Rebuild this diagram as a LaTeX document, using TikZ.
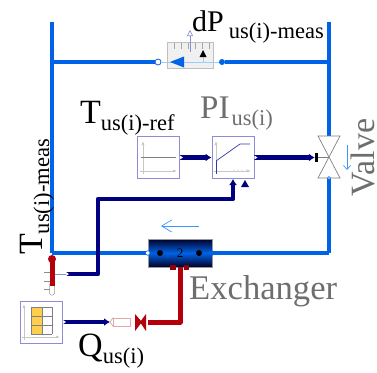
\documentclass[tikz,border=0pt]{standalone}
\usepackage{fontspec}
\setmainfont{Liberation Serif}
\usetikzlibrary{arrows.meta}
\usetikzlibrary{shapes.geometric}
\definecolor{pipeblue}{RGB}{0,98,230}
\definecolor{flowblue}{RGB}{60,150,250}
\definecolor{signalnavy}{RGB}{0,0,128}
\definecolor{boxviolet}{RGB}{140,140,215}
\definecolor{heatred}{RGB}{180,0,10}
\definecolor{labelgray}{RGB}{110,110,110}
\newcommand{\sublabel}[3][34]{{\fontsize{#1}{#1}\selectfont #2}{\fontsize{22.5}{22.5}\selectfont\raisebox{-7pt}{#3}}}
\begin{document}
\begin{tikzpicture}[x=1pt, y=-1pt]
	\tikzstyle{pipeStyle}=[draw=pipeblue, line width=4.5pt]
	\tikzstyle{signalStyle}=[draw=signalnavy, line width=4.2pt, -{Latex[length=6pt,width=8pt]}, line join=round]
	\tikzstyle{blockStyle}=[shape=rectangle, draw=boxviolet, line width=0.9pt, fill=white, minimum size=42pt, inner sep=0pt]
	\tikzstyle{axisStyle}=[draw=black!22, line width=0.7pt, -{Latex[length=4pt,width=3pt]}]
	\tikzstyle{portStyle}=[shape=circle, minimum size=6pt, inner sep=0pt]
	\tikzstyle{textStyle}=[anchor=base west, inner sep=0pt]
	\useasboundingbox (0,0) rectangle (377,372);
	% circuit
	\coordinate (topleft) at (52,22);
	\coordinate (topright) at (329,22);
	\coordinate (corner1) at (52,253);
	\coordinate (corner2) at (329,253);
	\coordinate (lefttee) at (52,62);
	\coordinate (righttee) at (329,62);
	\node[shape=rectangle, draw=black!25, fill=black!6, line width=0.8pt, minimum width=46pt, minimum height=26pt, inner sep=0pt] (sensor) at (190,55) {};
	\node[portStyle, draw=pipeblue, fill=white, line width=0.8pt] (sensorin) at (158,62) {};
	\node[portStyle, fill=pipeblue] (sensorout) at (222,62) {};
	\draw[draw=flowblue!50, line width=0.8pt] (sensorin) -- (sensorout);
	\draw[pipeStyle] (topleft) -- (corner1);
	\draw[pipeStyle] (lefttee) -- (sensorin);
	\draw[pipeStyle] (sensorout) -- (righttee);
	% sensor
	\foreach \tickx in {174,181,188,195,202,209}
		\draw[draw=black!35, line width=0.5pt] (\tickx,43) -- (\tickx,49);
	\fill[pipeblue] (170,62) -- (184,56.5) -- (184,67.5) -- cycle;
	\coordinate (sensorup) at (190,52);
	\coordinate (sensortip) at (190,30);
	\draw[draw=boxviolet, line width=0.6pt, -{Triangle[open,length=6pt,width=6pt]}] (sensorup) -- (sensortip);
	\draw[draw=flowblue!50, line width=0.6pt] (203,56) -- (203,62) -- (208,62);
	\fill[black] (203,50) -- (206.5,57) -- (199.5,57) -- cycle;
	% exchanger
	\node[shape=rectangle, draw=black!40, line width=0.5pt, minimum width=64pt, minimum height=28pt, inner sep=0pt, top color=black!85!blue, bottom color=black!85!blue, middle color=pipeblue] (exchanger) at (180,253) {\fontsize{13}{13}\selectfont 2};
	\node[portStyle, fill=black] (dot1) at (160,253) {};
	\node[portStyle, fill=black] (dot2) at (199,253) {};
	\draw[pipeStyle] (corner1) -- (exchanger.west);
	\draw[pipeStyle] (exchanger.east) -- (corner2);
	\node[portStyle, draw=pipeblue, fill=white, line width=0.6pt, minimum size=4.5pt] (exin) at (exchanger.west) {};
	\node[portStyle, fill=pipeblue, minimum size=5pt] (exout) at (exchanger.east) {};
	\coordinate (flowstart) at (199,226);
	\coordinate (flowend) at (161,226);
	\draw[draw=flowblue, line width=0.7pt, -{Straight Barb[length=10pt,width=12pt]}] (flowstart) -- (flowend);
	\fill[heatred!80!black] (170,265) rectangle (176,270);
	\fill[heatred!80!black] (184,265) rectangle (189,270);
	% valve
	\coordinate (valvetop) at (329,136);
	\coordinate (valvebottom) at (329,178);
	\coordinate (valvemid) at (329,157.5);
	\draw[pipeStyle] (topright) -- (valvetop);
	\draw[pipeStyle] (valvebottom) -- (corner2);
	\draw[draw=black!50, fill=white, line width=0.7pt] (318,136) -- (340,136) -- (318,178) -- (340,178) -- cycle;
	\node[portStyle, draw=pipeblue, fill=white, line width=0.5pt, minimum size=3pt] (valveport) at (valvebottom) {};
	\node[shape=rectangle, fill=black, minimum width=3pt, minimum height=9pt, inner sep=0pt] (valvebar) at (316.5,157.5) {};
	\draw[draw=black!50, line width=0.6pt] (valvebar) -- (valvemid);
	\coordinate (valveflow1) at (347,145);
	\coordinate (valveflow2) at (347,170);
	\draw[draw=flowblue, line width=0.7pt, -{Straight Barb[length=4pt,width=7pt]}] (valveflow1) -- (valveflow2);
	% blocks
	\node[blockStyle] (ref) at (158.5,157.5) {};
	\node[blockStyle] (pi) at (233,157.5) {};
	\node[blockStyle] (table) at (41.5,322) {};
	\draw[axisStyle] (143,174) -- (143,141);
	\draw[axisStyle] (140,171) -- (177,171);
	\draw[draw=black!50, line width=0.6pt] (141,157) -- (176,157);
	\draw[axisStyle] (216,174) -- (216,141);
	\draw[axisStyle] (214,171) -- (251,171);
	\draw[draw=boxviolet!40!signalnavy, line width=0.7pt] (216,161) -- (240,144) -- (250,144);
	\draw[draw=boxviolet!40!signalnavy, line width=0.7pt] (216,161) -- (216,174);
	\foreach \dotx in {234,238,242,246}
		\fill[black!40] (\dotx,170) circle (0.5pt);
	\draw[axisStyle] (24,340) -- (24,304);
	\draw[axisStyle] (22,337) -- (60,337);
	\fill[orange!55!yellow!70] (31,307) rectangle (42,334);
	\foreach \rowy in {307,316,325,334}
		\draw[draw=black!50, line width=0.7pt] (31,\rowy) -- (52,\rowy);
	\foreach \colx in {31,42,52}
		\draw[draw=black!50, line width=0.7pt] (\colx,307) -- (\colx,334);
	% signals
	\coordinate (piinput) at (233,179);
	\coordinate (sensorbend1) at (98,274);
	\coordinate (sensorbend2) at (98,199);
	\coordinate (sensorbend3) at (233,199);
	\coordinate (heateron) at (110,322);
	\draw[signalStyle] (ref.east) -- (pi.west);
	\draw[signalStyle] (pi.east) -- (valvebar.west);
	\fill[signalnavy] (245,180) -- (249,187) -- (241,187) -- cycle;
	% thermometer
	\node[shape=rectangle, draw=black!40, fill=white, rounded corners=1.5pt, line width=0.5pt, minimum width=5pt, minimum height=12pt, inner sep=0pt] (stem) at (52,289) {};
	\fill[heatred] (49.5,259) rectangle (54.5,286);
	\node[portStyle, fill=heatred, minimum size=8pt] (bulb) at (52,259) {};
	\foreach \marky in {272,281,289}
		\draw[draw=black!45, line width=0.6pt] (44,\marky) -- (49.5,\marky);
	\coordinate (thermoside) at (55,274);
	\coordinate (thermoout) at (66,274);
	\draw[draw=boxviolet, line width=0.7pt] (thermoside) -- (thermoout);
	\draw[signalStyle] (thermoout) -- (sensorbend1) -- (sensorbend2) -- (sensorbend3) -- (piinput);
	\draw[signalStyle] (table.east) -- (heateron);
	\foreach \outport in {ref.east, pi.east, table.east, thermoout}
		\fill[white] (\outport) ++(0,-2) -- ++(3,2) -- ++(-3,2) -- cycle;
	% heater
	\node[shape=rectangle, draw=heatred!35, fill=white, line width=0.8pt, minimum width=17pt, minimum height=8pt, inner sep=0pt] (pump) at (122,322) {};
	\coordinate (pumpleft) at (110,322);
	\draw[draw=heatred!35, line width=0.8pt] (pump.north west) -- (pumpleft) -- (pump.south west);
	\coordinate (heaterpipe) at (148,322);
	\coordinate (heaterbend) at (180,322);
	\coordinate (heaterup) at (180,267);
	\draw[draw=heatred, line width=5pt, line join=round] (heaterpipe) -- (heaterbend) -- (heaterup);
	\fill[heatred] (135,314) -- (142,322) -- (135,331) -- cycle;
	\fill[heatred] (146,314) -- (140,322) -- (146,331) -- cycle;
	% labels
	\node[textStyle] (labeldp) at (192,31) {\sublabel[30]{dP\hspace{5pt}}{us(i)-meas}};
	\node[textStyle] (labelref) at (80,123) {\sublabel{T}{us(i)-ref}};
	\node[textStyle, text=labelgray] (labelpi) at (200,118) {\sublabel[33]{PI\hspace{2pt}}{us(i)}};
	\node[textStyle, rotate=90] (labelt) at (42,255) {\sublabel{T}{us(i)-meas}};
	\node[textStyle, rotate=90, text=labelgray] (labelvalve) at (374,196.5) {\fontsize{34}{34}\selectfont Valve};
	\node[textStyle, text=labelgray] (labelex) at (189,299) {\fontsize{34.6}{34.6}\selectfont Exchanger};
	\node[textStyle] (labelq) at (78,356) {\sublabel{Q}{us(i)}};
\end{tikzpicture}
\end{document}
